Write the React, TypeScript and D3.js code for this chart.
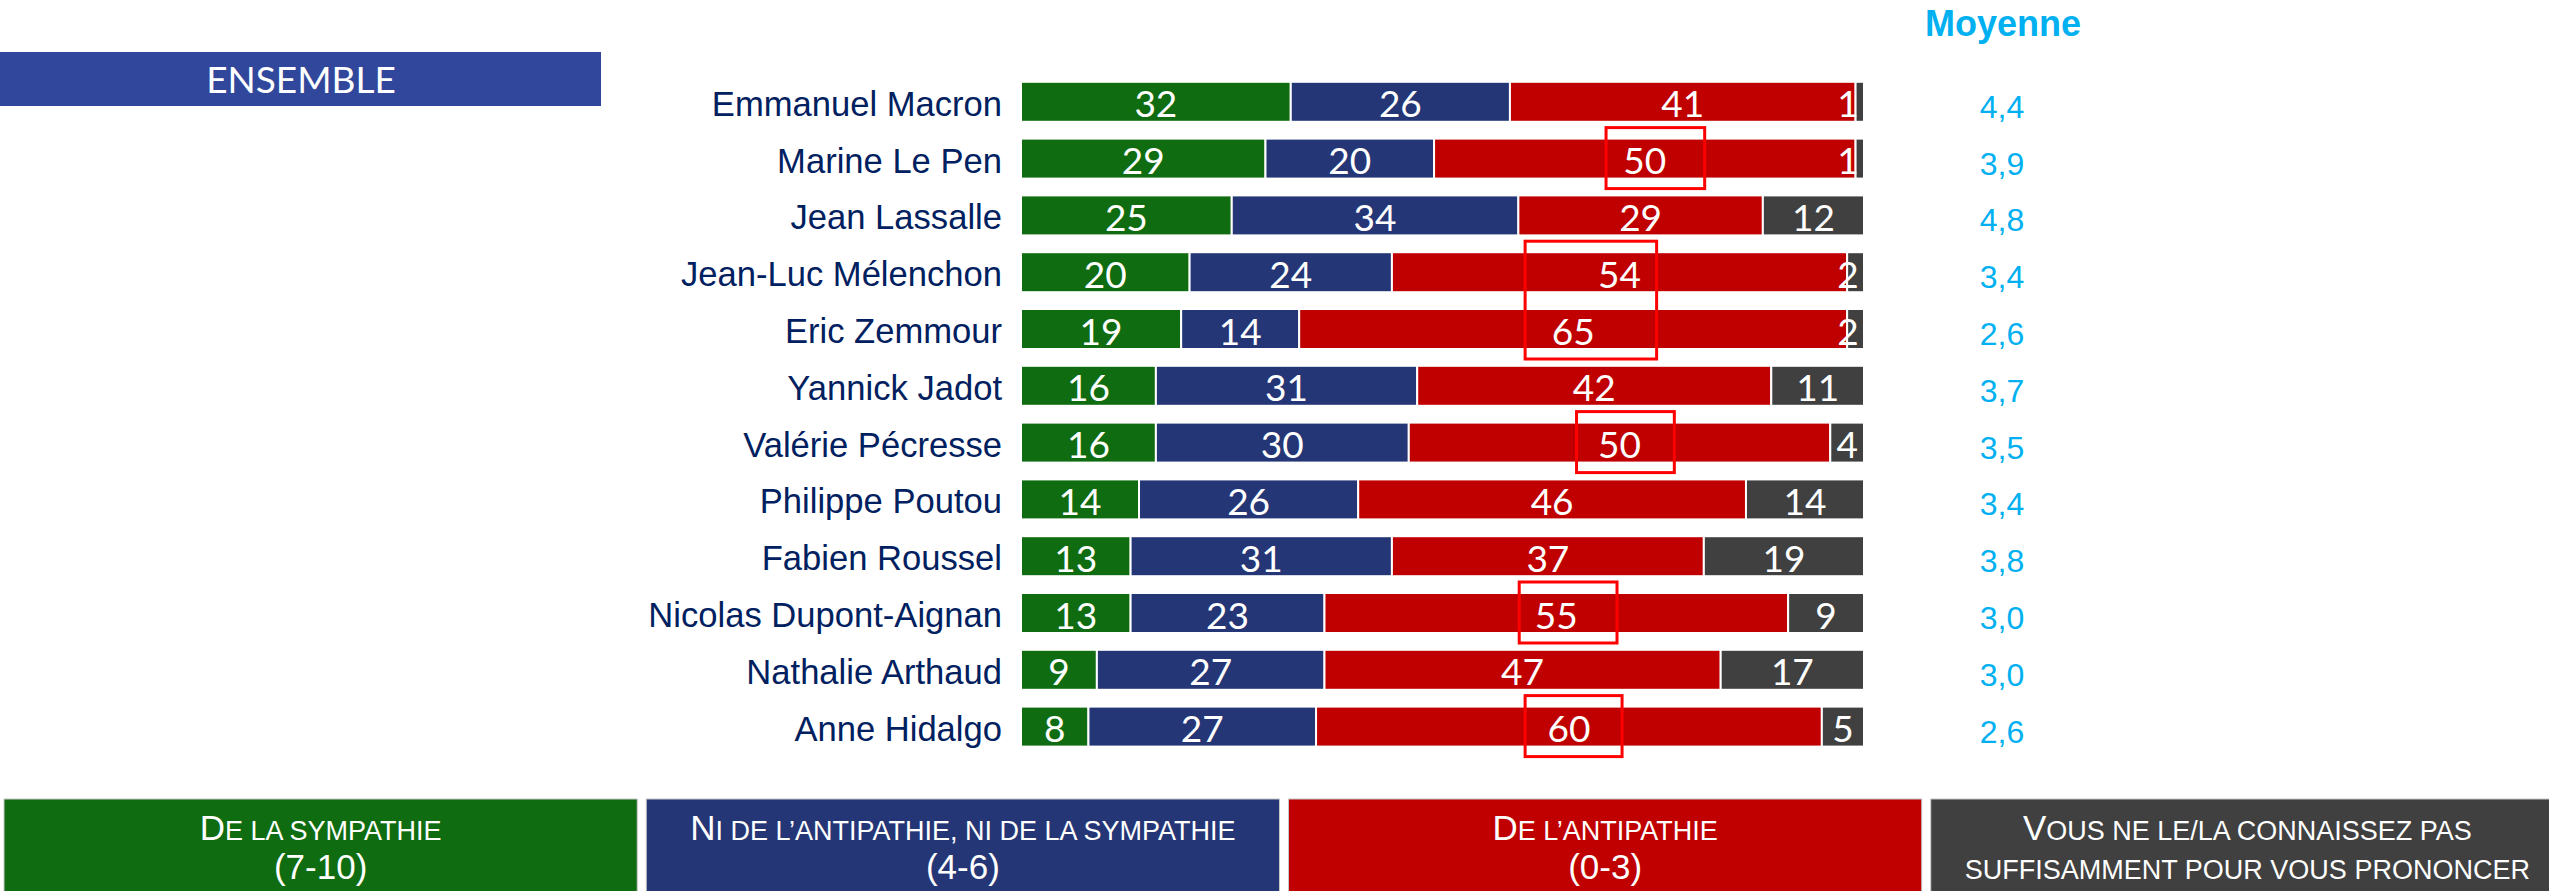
import React from "react";
import * as d3 from "d3";

const names = [
  "Emmanuel Macron",
  "Marine Le Pen",
  "Jean Lassalle",
  "Jean-Luc Mélenchon",
  "Eric Zemmour",
  "Yannick Jadot",
  "Valérie Pécresse",
  "Philippe Poutou",
  "Fabien Roussel",
  "Nicolas Dupont-Aignan",
  "Nathalie Arthaud",
  "Anne Hidalgo",
];
const sympathie = [32, 29, 25, 20, 19, 16, 16, 14, 13, 13, 9, 8];
const neutre = [26, 20, 34, 24, 14, 31, 30, 26, 31, 23, 27, 27];
const antipathie = [41, 50, 29, 54, 65, 42, 50, 46, 37, 55, 47, 60];
const inconnu = [1, 1, 12, 2, 2, 11, 4, 14, 19, 9, 17, 5];
const moyenne = ["4,4", "3,9", "4,8", "3,4", "2,6", "3,7", "3,5", "3,4", "3,8", "3,0", "3,0", "2,6"];

const keys = ["sympathie", "neutre", "antipathie", "inconnu"];
const colors: Record<string, string> = {
  sympathie: "#106c10",
  neutre: "#253676",
  antipathie: "#c00000",
  inconnu: "#404040",
};

// legend: each line is a list of [big, small] pieces (small caps imitation)
const legendLines: { key: string; lines: [string, string][][] }[] = [
  { key: "sympathie", lines: [[["D", "E LA SYMPATHIE"]], [["(7-10)", ""]]] },
  { key: "neutre", lines: [[["N", "I DE L’ANTIPATHIE, NI DE LA SYMPATHIE"]], [["(4-6)", ""]]] },
  { key: "antipathie", lines: [[["D", "E L’ANTIPATHIE"]], [["(0-3)", ""]]] },
  { key: "inconnu", lines: [[["V", "OUS NE LE/LA CONNAISSEZ PAS"]], [["", "SUFFISAMMENT POUR VOUS PRONONCER"]]] },
];

// highlighted red labels (row range, extent in % units)
const highlights = [
  { from: "Marine Le Pen", to: "Marine Le Pen", p0: 69.4, p1: 81.1 },
  { from: "Jean-Luc Mélenchon", to: "Eric Zemmour", p0: 59.8, p1: 75.4 },
  { from: "Valérie Pécresse", to: "Valérie Pécresse", p0: 65.9, p1: 77.5 },
  { from: "Nicolas Dupont-Aignan", to: "Nicolas Dupont-Aignan", p0: 59.1, p1: 70.7 },
  { from: "Anne Hidalgo", to: "Anne Hidalgo", p0: 59.8, p1: 71.3 },
];

const W = 2549;
const H = 891;
const ARIAL = "'Liberation Sans', Arial, sans-serif";
const LABEL = "Lato, 'Open Sans', sans-serif";

export default function App() {
  const rows = names.map((n, i) => ({
    name: n,
    sympathie: sympathie[i],
    neutre: neutre[i],
    antipathie: antipathie[i],
    inconnu: inconnu[i],
  }));
  const series = d3.stack<any>().keys(keys)(rows);

  const x = d3.scaleLinear().domain([0, 100]).range([1021, 1864]);
  const y = d3
    .scaleBand<string>()
    .domain(names)
    .range([73.4, 755])
    .paddingInner(0.296)
    .paddingOuter(0.148);
  const bw = y.bandwidth();
  const cy = (n: string) => (y(n) as number) + bw / 2;

  const legendX = d3.scaleBand<string>().domain(keys).range([4, 4 + 640 * 4]).paddingInner(9 / 640);

  return (
    <svg
      width={W}
      height={H}
      style={{ position: "absolute", left: 0, top: 0, display: "block", background: "#fff" }}
    >
      {/* ENSEMBLE banner */}
      <rect x={0} y={52} width={601} height={54} fill="#30479c" />
      <text x={301} y={93} textAnchor="middle" fill="#fff" fontFamily={LABEL} fontSize={37}>
        ENSEMBLE
      </text>

      {/* Moyenne header */}
      <text x={2003} y={36} textAnchor="middle" fill="#00b0f0" fontFamily={ARIAL} fontWeight="bold" fontSize={36}>
        Moyenne
      </text>

      {/* names */}
      {names.map((n) => (
        <text key={n} x={1002} y={cy(n) + 14} textAnchor="end" fill="#002060" fontFamily={ARIAL} fontSize={34.6}>
          {n}
        </text>
      ))}

      {/* bars */}
      {series.map((s) => (
        <g key={s.key}>
          {s.map((d: any) => (
            <rect
              key={d.data.name}
              x={x(d[0])}
              y={y(d.data.name)}
              width={x(d[1]) - x(d[0])}
              height={bw}
              fill={colors[s.key]}
              stroke="#ffffff"
              strokeWidth={2}
            />
          ))}
        </g>
      ))}

      {/* bar labels */}
      {series.map((s) => (
        <g key={"l" + s.key}>
          {s.map((d: any) => {
            const v = d[1] - d[0];
            const small = v <= 2;
            const lx = small ? x(100) - 16 : (x(d[0]) + x(d[1])) / 2;
            return (
              <text
                key={d.data.name}
                x={lx}
                y={cy(d.data.name) + 15.5}
                textAnchor="middle"
                fill="#fff"
                fontFamily={LABEL}
                fontSize={37}
              >
                {v}
              </text>
            );
          })}
        </g>
      ))}

      {/* highlight boxes */}
      {highlights.map((h, i) => (
        <rect
          key={i}
          x={x(h.p0)}
          y={cy(h.from) - 31}
          width={x(h.p1) - x(h.p0)}
          height={cy(h.to) + 30 - (cy(h.from) - 31)}
          fill="none"
          stroke="#ff0000"
          strokeWidth={3}
        />
      ))}

      {/* moyenne values */}
      {names.map((n, i) => (
        <text key={"m" + n} x={2002} y={cy(n) + 16} textAnchor="middle" fill="#00b0f0" fontFamily={ARIAL} fontSize={32}>
          {moyenne[i]}
        </text>
      ))}

      {/* legend */}
      {legendLines.map((l) => {
        const lx = legendX(l.key) as number;
        const lw = legendX.bandwidth();
        return (
          <g key={"lg" + l.key}>
            <rect x={lx} y={799} width={lw} height={H - 799 + 5} fill={colors[l.key]} stroke="#c8c8c8" strokeWidth={1} />
            {l.lines.map((line, li) => (
              <text
                key={li}
                x={lx + lw / 2}
                y={li === 0 ? 840 : 879}
                textAnchor="middle"
                fill="#fff"
                fontFamily={ARIAL}
              >
                {line.map((p, pi) => (
                  <React.Fragment key={pi}>
                    {p[0] ? <tspan fontSize={35}>{p[0]}</tspan> : null}
                    {p[1] ? <tspan fontSize={27}>{p[1]}</tspan> : null}
                  </React.Fragment>
                ))}
              </text>
            ))}
          </g>
        );
      })}
    </svg>
  );
}
